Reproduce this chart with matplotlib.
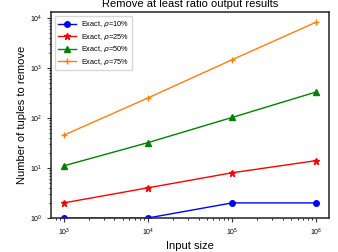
import matplotlib
matplotlib.use("Agg")
import matplotlib.pyplot as plt

plt.rcParams['font.family'] = ['Liberation Sans', 'DejaVu Sans']
plt.rcParams['mathtext.fontset'] = 'dejavusans'

sizes = [1e3, 1e4, 1e5, 1e6]
r10 = [1, 1, 2, 2]
r25 = [2, 4, 8, 14]
r50 = [11, 32, 102, 330]
r75 = [45, 250, 1450, 8200]

fig = plt.figure(figsize=(3.38, 2.52), dpi=100)
ax = fig.add_axes([0.151, 0.135, 0.822, 0.817])
ax.plot(sizes, r10, color='blue', marker='o', ms=4, lw=1, label=r'Exact, $\rho$=10%')
ax.plot(sizes, r25, color='red', marker='*', ms=4.5, lw=1, label=r'Exact, $\rho$=25%')
ax.plot(sizes, r50, color='green', marker='^', ms=4.5, lw=1, label=r'Exact, $\rho$=50%')
ax.plot(sizes, r75, color='#ff7f0e', marker='+', ms=5, lw=1, label=r'Exact, $\rho$=75%')
ax.set_xscale('log')
ax.set_yscale('log')
ax.set_ylim(1, 1.3e4)
ax.tick_params(labelsize=5, length=3, width=0.8, colors='#333333', labelcolor='black')
ax.tick_params(which='minor', length=1.5, width=0.6)
for s in ax.spines.values():
    s.set_linewidth(1.2)
    s.set_color('#333333')
ax.set_xlabel('Input size', fontsize=8, labelpad=2)
ax.set_ylabel('Number of tuples to remove', fontsize=8, labelpad=2)
ax.set_title('Remove at least ratio output results', fontsize=8, pad=4)
ax.legend(loc='upper left', fontsize=5.3, handlelength=2.5, borderpad=0.45,
          labelspacing=0.35, handletextpad=0.6)
fig.savefig('out.png', dpi=100)
